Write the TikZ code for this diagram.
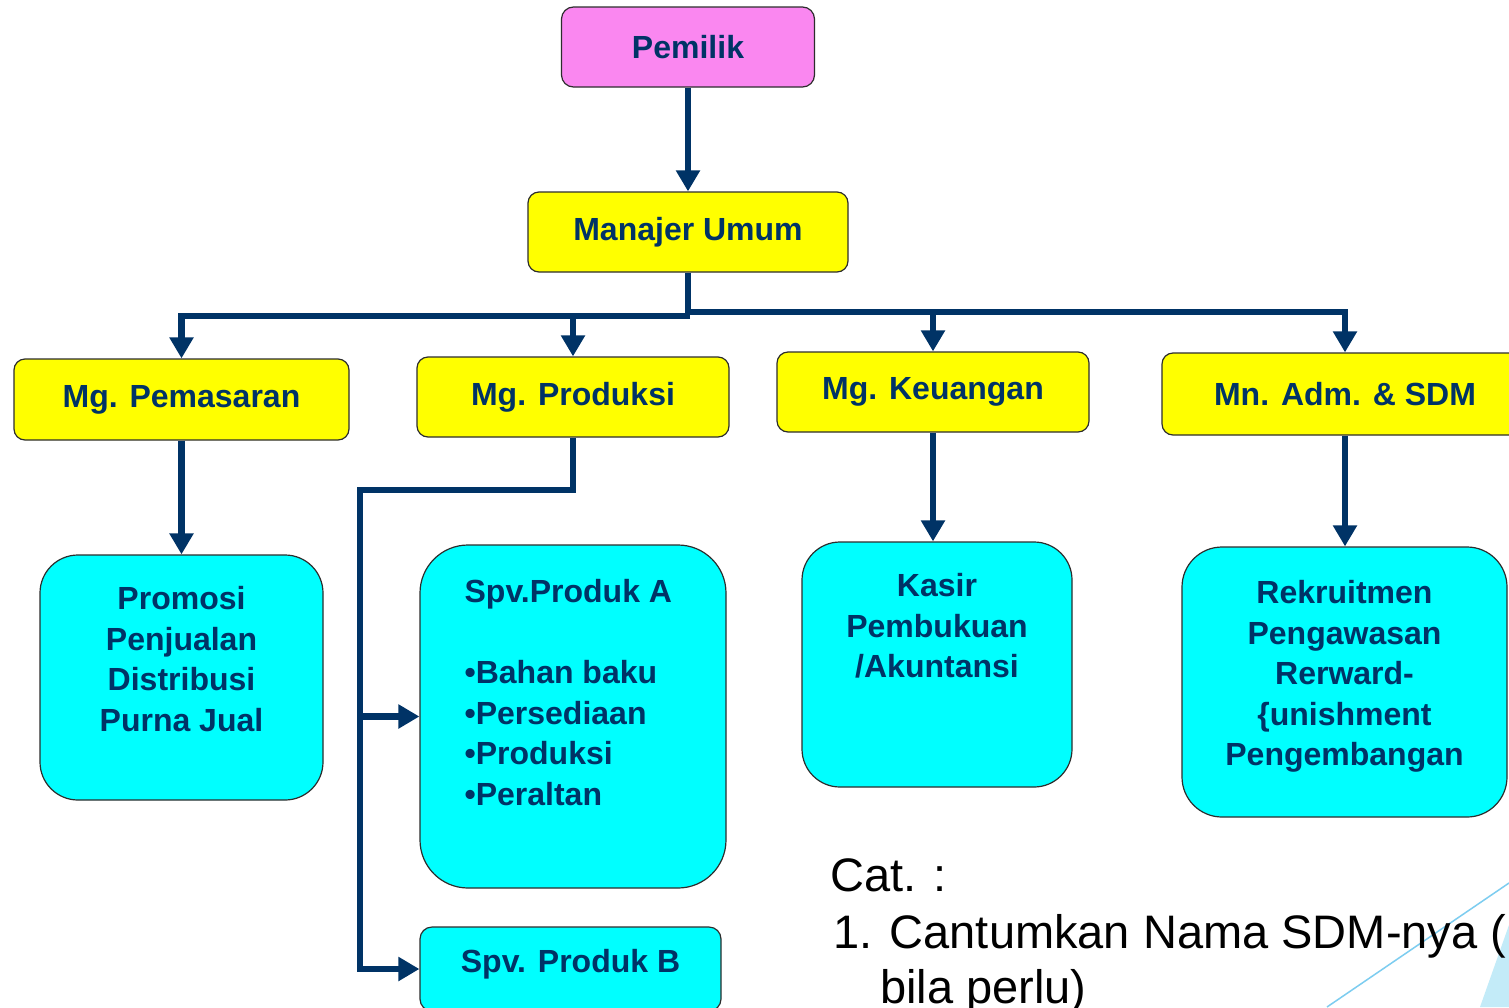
\documentclass[tikz,border=0pt]{standalone}
\usepackage{fontspec}
\setmainfont{Liberation Sans}
\usetikzlibrary{arrows.meta,positioning}

\definecolor{navy}{RGB}{0,51,102}
\definecolor{ownerpink}{RGB}{250,135,240}
\definecolor{mgyellow}{RGB}{255,255,0}
\definecolor{taskcyan}{RGB}{0,255,255}
\definecolor{edgegrey}{RGB}{45,45,45}
\definecolor{slideblue}{RGB}{125,205,240}
\definecolor{slidefill}{RGB}{195,235,248}

\begin{document}
\begin{tikzpicture}[
            x=1pt, y=-1pt,
            >={Triangle[width=23pt,length=21pt]},
            box/.style={draw=edgegrey, line width=1.2pt, inner sep=0pt, text=navy,
                font=\bfseries\fontsize{32}{40.5}\selectfont},
            mgbox/.style={box, fill=mgyellow, rounded corners=11pt, minimum height=80pt},
            taskbox/.style={box, fill=taskcyan},
            tasktext/.style={inner sep=0pt, text=navy, align=center,
                font=\bfseries\fontsize{32}{40.5}\selectfont},
            link/.style={->, draw=navy, line width=6.8pt},
            note/.style={inner sep=0pt, align=left, font=\fontsize{47}{55}\selectfont}
        ]
            \useasboundingbox (0,0) rectangle (1509,1007);
            \fill[white] (0,0) rectangle (1509,1007);
            \clip (0,0) rectangle (1509,1007);

            % slide corner
            \fill[slidefill] (1480,1007) -- (1509,925) -- (1509,1007) -- cycle;
            \draw[slideblue, line width=1.5pt] (1327,1007) -- (1509,883);

            \node[box, fill=ownerpink, rounded corners=12pt, minimum width=253pt, minimum height=80pt] (pemilik) at (688,47) {Pemilik};
            \node[mgbox, minimum width=320pt] (manajer) at (688,232) {Manajer Umum};

            \node[mgbox, minimum width=335pt, minimum height=81pt] (pemasaran) at (181.5,399.5) {Mg. Pemasaran};
            \node[mgbox, minimum width=312pt] (produksi) at (573,397) {Mg. Produksi};
            \node[mgbox, minimum width=312pt] (keuangan) at (933,392) {Mg. Keuangan};
            \node[mgbox, minimum width=366pt, minimum height=82pt] (adm) at (1345,394) {Mn. Adm. \& SDM};

            \node[taskbox, rounded corners=38pt, minimum width=283pt, minimum height=245pt] (promosi) at (181.5,677.5) {};
            \node[tasktext, below=32pt of promosi.north] (promosiText) {Promosi\\Penjualan\\Distribusi\\Purna Jual};

            \node[taskbox, rounded corners=48pt, minimum width=306pt, minimum height=343pt] (spvA) at (573,716.5) {};
            \node[tasktext, align=left, below right=35pt and 45pt of spvA.north west] (spvAText) {Spv.Produk A\\[40.5pt]•Bahan baku\\•Persediaan\\•Produksi\\•Peraltan};

            \node[taskbox, rounded corners=12pt, minimum width=301pt, minimum height=84pt] (spvB) at (570.5,969) {};
            \node[tasktext, below=23pt of spvB.north] (spvBText) {Spv. Produk B};

            \node[taskbox, rounded corners=38pt, minimum width=270pt, minimum height=245pt] (kasir) at (937,664.5) {};
            \node[tasktext, below=32pt of kasir.north] (kasirText) {Kasir\\Pembukuan\\/Akuntansi};

            \node[taskbox, rounded corners=40pt, minimum width=325pt, minimum height=270pt] (rekrut) at (1344.5,682) {};
            \node[tasktext, below=34pt of rekrut.north] (rekrutText) {Rekruitmen\\Pengawasan\\Rerward-\\\{unishment\\Pengembangan};

            \draw[link] (pemilik) -- (manajer);

            \coordinate (hubL) at (690,316);
            \coordinate (hubR) at (688,312);
            \draw[link] (manajer.south) -- (hubR) -| (adm.north);
            \draw[link] (hubR) -| (keuangan.north);
            \draw[link] (hubL) -| (pemasaran.north);
            \draw[link] (hubL -| produksi.north) -- (produksi.north);

            \draw[link] (pemasaran) -- (promosi);
            \draw[link] (keuangan.south) -- (keuangan.south |- kasir.north);
            \draw[link] (adm.south) -- (adm.south |- rekrut.north);

            \coordinate (spine) at (360,490);
            \draw[link] (produksi.south) |- (spine) |- (spvB.west);
            \draw[link] (spine |- spvA.west) -- (spvA.west);

            \node[note, anchor=north west] (catNote) at (830,858) {Cat. :};
            \node[note, anchor=north west] (catItem) at (833,914) {1. Cantumkan Nama SDM-nya (\\\hspace*{47pt}bila perlu)};
        \end{tikzpicture}
\end{document}
